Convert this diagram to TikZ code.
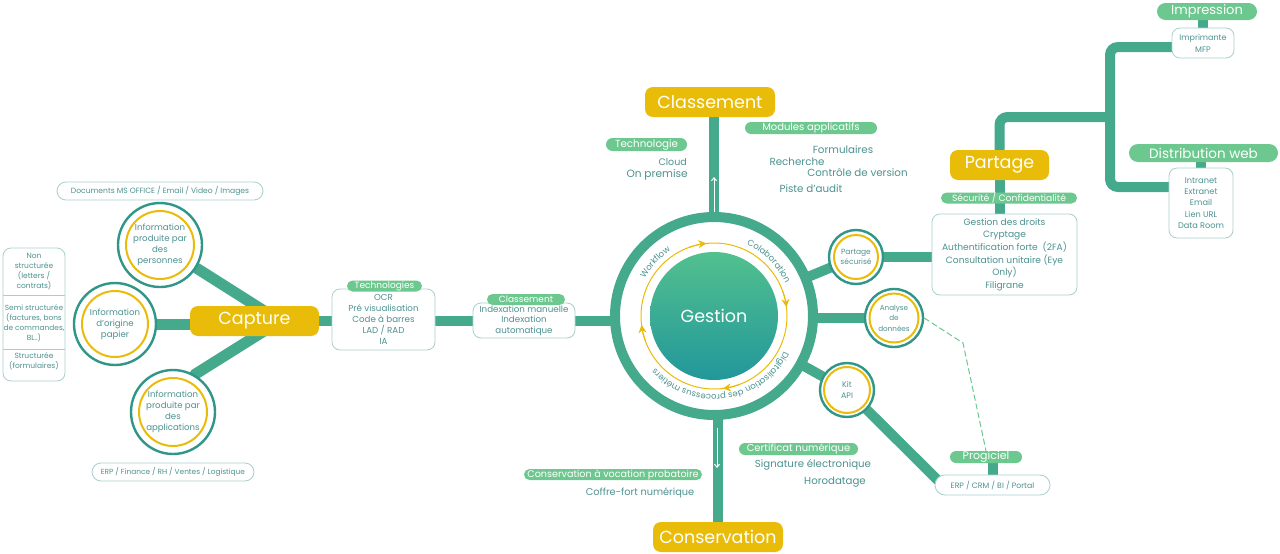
\documentclass[tikz,border=0pt]{standalone}
\usepackage{fontspec}
\setmainfont{Poppins}
\usetikzlibrary{arrows.meta,shapes.misc,decorations.text,backgrounds,calc}
\newcommand\fsz[2]{\fontsize{#1}{#2}\selectfont}
\definecolor{teal1}{HTML}{45AA8C}
\definecolor{circ}{HTML}{2F9688}
\definecolor{yel}{HTML}{E9BC0A}
\definecolor{pillg}{HTML}{6DC88F}
\definecolor{txt}{HTML}{4C9290}
\definecolor{boxc}{HTML}{A8CFCC}
\definecolor{gtop}{HTML}{52C08E}
\definecolor{gbot}{HTML}{22979B}
\begin{document}
\begin{tikzpicture}[x=1pt,y=-1pt,
  branch/.style={draw=teal1, line width=10pt, line cap=round},
  bigy/.style={rectangle, rounded corners=8pt, fill=yel, text=white, font=\fsz{17.5}{20}, minimum height=30pt, minimum width=130pt, inner sep=0pt},
  pill/.style={rounded rectangle, fill=pillg, text=white, inner sep=0pt},
  opill/.style={rounded rectangle, draw=boxc, line width=0.8pt, fill=white, text=txt, inner sep=0pt},
  obox/.style={rectangle, rounded corners=8pt, draw=boxc, line width=0.8pt, fill=white, text=txt, align=center, inner sep=0pt},
  plain/.style={text=txt, inner sep=0pt},
  infoc/.style 2 args={circle, draw=circ, line width=2.4pt, fill=white, minimum size=#1, inner sep=0pt, text=txt, align=center,
     path picture={\draw[yel, line width=2pt] (path picture bounding box.center) circle[radius=#2];}},
  ringnode/.style={circle, draw=teal1, line width=10pt, fill=white, minimum size=198pt, inner sep=0pt},
  yarrow/.style={draw=yel, line width=1pt, -{Stealth[length=8pt,width=8pt]}},
  whitearrow/.style={draw=white, line width=1pt, -{Straight Barb[length=3pt,width=5pt]}}
]
\useasboundingbox (0,0) rectangle (1280,554);

% ---------- central ring ----------
\node[ringnode] (ring) at (714,316) {};
\draw[draw=yel, line width=1pt] (ring.center) circle[radius=73];
\draw[yarrow] (ring.center) ++(-110:73) arc[start angle=-110, end angle=-96, radius=73];
\draw[yarrow] (ring.center) ++(-20:73) arc[start angle=-20, end angle=-7, radius=73];
\draw[yarrow] (ring.center) ++(70:73) arc[start angle=70, end angle=83, radius=73];
\draw[yarrow] (ring.center) ++(160:73) arc[start angle=160, end angle=173, radius=73];
\node[circle, minimum size=128pt, inner sep=0pt, top color=gtop, bottom color=gbot, text=white, font=\fsz{17.5}{20}] (gest) at (ring.center) {Gestion};
\path[decorate, decoration={text along path, text align=center, text color=txt, text={|\fsz{8.5}{10}|Workflow}}]
  (ring.center) ++(-165:78.5) arc[start angle=-165, end angle=-110, radius=78.5];
\path[decorate, decoration={text along path, text align=center, text color=txt, text={|\fsz{8.5}{10}|Colaboration}}]
  (ring.center) ++(-72:78.5) arc[start angle=-72, end angle=-18, radius=78.5];
\path[decorate, decoration={text along path, text align=center, text color=txt, text={|\fsz{8.5}{10}|Digitalisation des processus métiers}}]
  (ring.center) ++(12:78.5) arc[start angle=12, end angle=153, radius=78.5];

% ---------- main yellow nodes ----------
\node[bigy] (cls) at (710,102) {Classement};
\node[bigy] (cons) at (718,537) {Conservation};
\node[bigy, minimum width=129pt] (cap) at (254.5,321) {Capture};
\node[bigy, minimum width=99pt] (part) at (999.5,165) {Partage};

% ---------- capture side ----------
\node[infoc={84pt}{34pt}, font=\fsz{8.6}{11}] (pers) at (160,245) {Information\\produite par\\des\\personnes};
\node[infoc={82pt}{33pt}, font=\fsz{8.6}{11}] (pap) at (115,324) {Information\\d'origine\\papier};
\node[infoc={84pt}{34pt}, font=\fsz{8.6}{11}] (app) at (173,412) {Information\\produite par\\des\\applications};
\coordinate (cj) at (280,321);

\node[obox, minimum width=62pt, minimum height=133pt] (stack) at (34,314.5) {};
\coordinate (d1) at (0,295);
\coordinate (d2) at (0,349);
\draw[boxc, line width=1pt] (stack.west |- d1) -- (stack.east |- d1);
\draw[boxc, line width=1pt] (stack.west |- d2) -- (stack.east |- d2);
\node[plain, align=center, font=\fsz{7.5}{10}] (s1) at (34,272) {Non\\structurée\\(letters /\\contrats)};
\node[plain, align=center, font=\fsz{7.4}{10}] (s2) at (34,323) {Semi structurée\\(factures, bons\\de commandes,\\BL..)};
\node[plain, align=center, font=\fsz{7.5}{10}] (s3) at (34,361) {Structurée\\(formulaires)};

\node[opill, minimum width=206pt, minimum height=18pt, font=\fsz{7.6}{10}] (docs) at (160,191) {Documents MS OFFICE / Email / Video / Images};
\node[opill, minimum width=162pt, minimum height=18pt, font=\fsz{7.4}{10}] (erpl) at (173,472) {ERP / Finance / RH / Ventes / Logistique};

\node[obox, minimum width=103pt, minimum height=61pt, font=\fsz{8.7}{10.9}] (tech) at (383.5,319.5) {OCR\\Pré visualisation\\Code à barres\\LAD / RAD\\IA};
\node[pill, minimum width=75pt, minimum height=11pt, font=\fsz{9}{10}] (techp) at (384.5,286) {Technologies};
\node[obox, minimum width=102pt, minimum height=35pt, font=\fsz{8.7}{10.6}] (idx) at (524,320.5) {Indexation manuelle\\Indexation\\automatique};
\node[pill, minimum width=78pt, minimum height=11pt, font=\fsz{9}{10}] (idxp) at (526,299.5) {Classement};

% ---------- classement labels ----------
\node[pill, minimum width=81pt, minimum height=13pt, font=\fsz{10.3}{12}] (techno) at (646.5,144.5) {Technologie};
\node[plain, anchor=east, font=\fsz{9.5}{11}] (cloud) at (687,162) {Cloud};
\node[plain, anchor=east, font=\fsz{10.6}{12}] (onp) at (688,174.5) {On premise};
\node[pill, minimum width=132pt, minimum height=12pt, font=\fsz{10}{12}] (mods) at (811,128) {Modules applicatifs};
\node[plain, font=\fsz{10.3}{12}] (form) at (843,150) {Formulaires};
\node[plain, font=\fsz{10.3}{12}] (rech) at (797,162) {Recherche};
\node[plain, font=\fsz{10.3}{12}] (ctrl) at (857.5,173) {Contrôle de version};
\node[plain, font=\fsz{10.3}{12}] (piste) at (811,189) {Piste d'audit};

% ---------- right side ----------
\node[infoc={54pt}{22pt}, font=\fsz{7.5}{10}] (ps) at (856,257) {Partage\\sécurisé};
\node[infoc={58pt}{24.5pt}, font=\fsz{7.2}{10.5}] (ana) at (894,318) {Analyse\\de\\données};
\node[infoc={54pt}{23pt}, font=\fsz{8}{11.5}] (kit) at (847,390) {Kit\\API};

\node[obox, minimum width=145pt, minimum height=81pt, font=\fsz{9.1}{12.6}] (partbox) at (1004.5,254.5) {Gestion des droits\\Cryptage\\Authentification forte\ \ (2FA)\\Consultation unitaire (Eye\\Only)\\Filigrane};
\node[pill, minimum width=136pt, minimum height=11pt, font=\fsz{9.2}{11}] (secp) at (1009,198) {Sécurité / Confidentialité};

\node[obox, minimum width=62pt, minimum height=30pt, font=\fsz{8}{12}] (impb) at (1203,43) {Imprimante\\MFP};
\node[pill, minimum width=100pt, minimum height=17pt, font=\fsz{13}{15}] (impp) at (1207,11.5) {Impression};
\node[obox, minimum width=64pt, minimum height=70pt, font=\fsz{8.2}{11.2}] (distb) at (1201,203) {Intranet\\Extranet\\Email\\Lien URL\\Data Room};
\node[pill, minimum width=149pt, minimum height=18pt, font=\fsz{13.5}{15}] (distp) at (1203.5,153) {Distribution web};
\coordinate (jn) at (1110,117);
\coordinate (y47) at (0,47);
\coordinate (y187) at (0,187);

\node[obox, minimum width=115pt, minimum height=20pt, rounded corners=10pt, font=\fsz{7.8}{10}] (erp) at (992.5,485) {ERP / CRM / BI / Portal};
\node[pill, minimum width=72pt, minimum height=12pt, font=\fsz{11}{12}] (prog) at (986,457) {Progiciel};
\coordinate (bend) at (963,343);

% ---------- conservation labels ----------
\node[pill, minimum width=119pt, minimum height=12pt, font=\fsz{10}{12}] (cert) at (798.5,449) {Certificat numérique};
\node[plain, font=\fsz{10.2}{12}] (sig) at (813,465) {Signature électronique};
\node[plain, font=\fsz{10.2}{12}] (horo) at (835,482) {Horodatage};
\node[pill, minimum width=178pt, minimum height=11pt, font=\fsz{9.6}{11}] (cvp) at (613,474.5) {Conservation à vocation probatoire};
\node[plain, font=\fsz{9.8}{12}] (coffre) at (640,493) {Coffre-fort numérique};

% ---------- white arrows in the vertical branches ----------
\coordinate (wa1) at (714,212);
\coordinate (wa2) at (714,177);
\coordinate (wb1) at (717,428);
\coordinate (wb2) at (717,468);
\draw[whitearrow] (wa1) -- (wa2);
\draw[whitearrow] (wb1) -- (wb2);

% ---------- connectors (behind) ----------
\begin{scope}[on background layer]
\fill[white] (0,0) rectangle (1280,554);
\draw[branch, line width=11pt] (pers) -- (cj);
\draw[branch, line width=11pt] (pap) -- (pap -| cap.center);
\draw[branch, line width=11pt] (app.60) -- (cj);
\draw[branch] (cap.east) -- (cap.east -| ring.center);
\draw[branch] (ring.center) -- (ring.center |- cls.south);
\draw[branch] (cons.north) -- (cons.north |- ring.center);
\draw[branch] (ring.center) -- (ps.center);
\draw[branch] (ps) -- (ps -| partbox.center);
\draw[branch] (ana -| ring.center) -- (ana);
\draw[branch] (ring.center) -- (kit);
\draw[branch] (kit) -- ([xshift=8pt]erp.west);
\draw[branch] (erp.center |- prog.center) -- (erp.center);
\draw[branch] (part.south) -- (part.south |- partbox.north);
\draw[branch, rounded corners=8pt] (part.north) |- (jn);
\draw[branch, rounded corners=8pt] (impb.west |- y47) -| (jn) |- (distb.west |- y187);
\draw[branch] (impb.north) -- (impb.north |- impp.center);
\draw[branch] (distb.north) -- (distb.north |- distp.center);
\draw[pillg, line width=1pt, dash pattern=on 6pt off 3pt] (ana.east) -- (bend) -- (prog.north);
\end{scope}
\end{tikzpicture}
\end{document}
